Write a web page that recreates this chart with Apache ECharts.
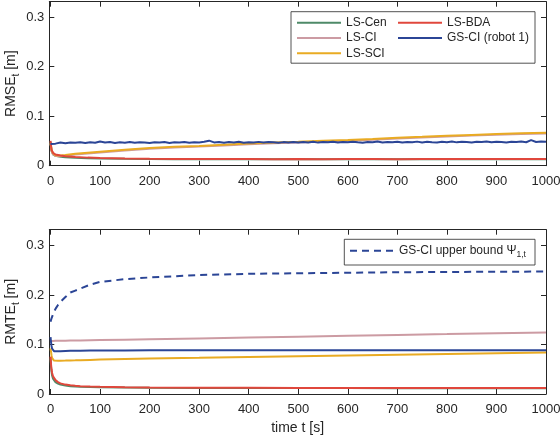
<!DOCTYPE html>
<html><head><meta charset="utf-8">
<script src="https://cdn.jsdelivr.net/npm/echarts@6/dist/echarts.min.js"></script>
<style>html,body{margin:0;padding:0;background:#fff}#c{width:560px;height:436px}</style>
</head><body><div id="c"></div>
<script>
// ---------- tick labels ----------
const xTicks = [0, 100, 200, 300, 400, 500, 600, 700, 800, 900, 1000];
const yTicks = [0, 0.1, 0.2, 0.3];

// ---------- top panel: RMSE_t ----------
const tNoise = [0,10,20,30,40,50,60,70,80,90,100,110,120,130,140,150,160,170,180,190,200,210,220,230,240,250,260,270,280,290,300,310,320,330,340,350,360,370,380,390,400,410,420,430,440,450,460,470,480,490,500,510,520,530,540,550,560,570,580,590,600,610,620,630,640,650,660,670,680,690,700,710,720,730,740,750,760,770,780,790,800,810,820,830,840,850,860,870,880,890,900,910,920,930,940,950,960,970,980,990,1000];
const rmseGsCi = [0.044,0.0445,0.047,0.0455,0.0468,0.0462,0.0472,0.0458,0.0475,0.0465,0.049,0.0468,0.0478,0.046,0.0472,0.0465,0.0478,0.0462,0.0474,0.0468,0.0458,0.0472,0.0466,0.0478,0.046,0.0473,0.0467,0.0479,0.0463,0.0475,0.0468,0.0482,0.0505,0.047,0.0478,0.0463,0.0476,0.0468,0.0482,0.0465,0.0474,0.0469,0.0481,0.0466,0.0477,0.0471,0.0462,0.0476,0.0469,0.048,0.0467,0.0478,0.047,0.0483,0.0466,0.0479,0.0472,0.0485,0.0468,0.0477,0.0471,0.0484,0.0474,0.0465,0.048,0.0473,0.0487,0.0469,0.0478,0.0472,0.0484,0.0467,0.0479,0.0473,0.0486,0.047,0.0481,0.0474,0.0468,0.0482,0.0475,0.0488,0.0471,0.0483,0.0476,0.0469,0.0484,0.0477,0.049,0.0472,0.0485,0.0478,0.047,0.0484,0.0476,0.0488,0.0474,0.0515,0.0478,0.0486,0.0482];

const tTop = [0,2,5,10,20,30,50,75,100,150,200,250,300,350,400,450,500,550,600,650,700,750,800,850,900,950,1000];
const rmseLsSci = [0.045,0.032,0.025,0.021,0.0205,0.0215,0.024,0.026,0.028,0.032,0.0355,0.038,0.040,0.0425,0.045,0.047,0.0485,0.0503,0.052,0.054,0.0563,0.0583,0.0605,0.0622,0.064,0.0655,0.0667];
const rmseLsCi  = [0.045,0.030,0.023,0.0195,0.019,0.020,0.0225,0.0245,0.0265,0.0305,0.034,0.0365,0.0385,0.041,0.0435,0.0455,0.047,0.0488,0.0505,0.0525,0.0548,0.0568,0.059,0.0607,0.0625,0.064,0.0652];
const rmseLsBda = [0.050,0.032,0.026,0.0225,0.0205,0.019,0.0175,0.0163,0.0155,0.0145,0.014,0.0137,0.0135,0.0133,0.0134,0.0132,0.0133,0.0131,0.0134,0.0135,0.0132,0.0134,0.0133,0.0135,0.0133,0.0136,0.0134];
const rmseLsCen = [0.048,0.030,0.023,0.020,0.018,0.0168,0.0158,0.015,0.0145,0.0138,0.0134,0.0131,0.013,0.0129,0.0131,0.0129,0.013,0.0128,0.0131,0.0132,0.0129,0.0131,0.013,0.0132,0.013,0.0133,0.0131];

// ---------- bottom panel: RMTE_t ----------
const tBot = [0,1,2,3,5,7,10,15,20,30,40,50,60,80,100,150,200,300,400,500,600,700,800,900,1000];
const rmteBound = [0.146,0.150,0.153,0.156,0.161,0.166,0.172,0.180,0.186,0.196,0.205,0.209,0.213,0.221,0.2265,0.232,0.2355,0.2405,0.2428,0.244,0.245,0.246,0.2466,0.247,0.2475];
const rmteLsCi  = [0.1072,0.1072,0.1072,0.1073,0.1073,0.1073,0.1074,0.1075,0.1076,0.1077,0.1079,0.108,0.1082,0.1086,0.1089,0.1098,0.1107,0.1124,0.1141,0.1158,0.1176,0.1193,0.121,0.1228,0.1245];
const rmteGsCi  = [0.115,0.105,0.097,0.092,0.088,0.0865,0.086,0.0862,0.0866,0.087,0.0872,0.0874,0.0875,0.0877,0.0878,0.088,0.0882,0.0883,0.0884,0.0884,0.0884,0.0884,0.0883,0.0882,0.0882];
const rmteLsSci = [0.092,0.085,0.078,0.073,0.069,0.0675,0.0672,0.0672,0.0673,0.0675,0.0678,0.068,0.0683,0.0689,0.0695,0.0705,0.0715,0.0731,0.0748,0.0764,0.078,0.0795,0.081,0.0824,0.0838];
const rmteLsBda = [0.0755,0.060,0.050,0.043,0.036,0.032,0.028,0.024,0.0215,0.019,0.0175,0.0165,0.0158,0.015,0.0145,0.0138,0.0132,0.0127,0.0124,0.0122,0.0121,0.012,0.012,0.012,0.0119];
const rmteLsCen = [0.072,0.055,0.045,0.038,0.031,0.027,0.024,0.021,0.019,0.017,0.0158,0.015,0.0145,0.014,0.0137,0.0131,0.0127,0.0123,0.0121,0.012,0.0119,0.0118,0.0118,0.0118,0.0117];

// ---------- names / colors ----------
const names = ['LS-Cen', 'LS-CI', 'LS-SCI', 'LS-BDA', 'GS-CI (robot 1)'];
const boundName = 'GS-CI upper bound \u03A81,t';
const colors = { cen: '#4e8a68', ci: '#cc9ba3', sci: '#e9ab23', bda: '#e0473c', gs: '#2b4596' };

const pairs = (t, v) => t.map((x, i) => [x, v[i]]);
const ink = '#262626';
const font = '"Liberation Sans", Arial, Helvetica, sans-serif';

function xAx(grid, pos, showLabels, name) {
  return {
    type: 'value', gridIndex: grid, position: pos, min: -2.5, max: 1000,
    axisLine: { show: true, onZero: false, lineStyle: { color: ink, width: 1 } },
    axisTick: { show: true, inside: true, length: 5, customValues: xTicks, lineStyle: { color: ink, width: 1 } },
    axisLabel: { show: showLabels, customValues: xTicks, margin: 9, fontSize: 13, color: ink, fontFamily: font,
      formatter: v => String(v) },
    splitLine: { show: false },
    name: name || '', nameLocation: 'middle', nameGap: 27, nameMoveOverlap: false,
    nameTextStyle: { fontSize: 14, color: ink, fontFamily: font }
  };
}
function yAx(grid, pos, showLabels, name, max) {
  return {
    type: 'value', gridIndex: grid, position: pos, min: 0, max: max,
    axisLine: { show: true, onZero: false, lineStyle: { color: ink, width: 1 } },
    axisTick: { show: true, inside: true, length: 5, customValues: yTicks, lineStyle: { color: ink, width: 1 } },
    axisLabel: { show: showLabels, customValues: yTicks, margin: 5, fontSize: 13, color: ink, fontFamily: font,
      formatter: v => String(v) },
    splitLine: { show: false },
    name: name || '', nameLocation: 'middle', nameGap: 28, nameMoveOverlap: false,
    nameTextStyle: {
      color: ink, fontFamily: font,
      rich: {
        a: { fontSize: 14, lineHeight: 20, color: ink, fontFamily: font },
        s: { fontSize: 10, lineHeight: 10, verticalAlign: 'bottom', color: ink, fontFamily: font }
      }
    }
  };
}
function line(name, xi, yi, data, color, extra) {
  return Object.assign({
    type: 'line', name: name, xAxisIndex: xi, yAxisIndex: yi, data: data,
    symbol: 'none', showSymbol: false, animation: false, smooth: false,
    lineStyle: { color: color, width: 2 }, itemStyle: { color: color }
  }, extra || {});
}
const legendCommon = {
  orient: 'vertical', padding: 0, itemWidth: 44, itemHeight: 14, itemGap: 1.3, z: 5,
  itemStyle: { color: 'rgba(0,0,0,0)', borderWidth: 0, opacity: 0 },
  lineStyle: { width: 2 }
};

const chart = echarts.init(document.getElementById('c'), null, { renderer: 'canvas' });
chart.setOption({
  animation: false,
  textStyle: { fontFamily: font },
  grid: [
    { left: 49.3, right: 14, top: 1.7, height: 164, containLabel: false, outerBoundsMode: 'none' },
    { left: 49.3, right: 14, top: 229.7, height: 164.3, containLabel: false, outerBoundsMode: 'none' }
  ],
  xAxis: [
    xAx(0, 'bottom', true),
    xAx(0, 'top', false),
    xAx(1, 'bottom', true, 'time t [s]'),
    xAx(1, 'top', false)
  ],
  yAxis: [
    yAx(0, 'left', true, '{a|RMSE}{s|t}{a| [m]}', 0.331),
    yAx(0, 'right', false, '', 0.331),
    yAx(1, 'left', true, '{a|RMTE}{s|t}{a| [m]}', 0.332),
    yAx(1, 'right', false, '', 0.332)
  ],
  graphic: [
    { type: 'rect', z: 3, shape: { x: 291, y: 11.7, width: 244, height: 51.5 }, style: { fill: '#fff', stroke: ink, lineWidth: 0.8 } },
    { type: 'rect', z: 3, shape: { x: 344.3, y: 239.3, width: 190.7, height: 25.7 }, style: { fill: '#fff', stroke: ink, lineWidth: 0.8 } }
  ],
  legend: [
    Object.assign({}, legendCommon, { data: [names[0], names[1], names[2]], left: 296, top: 15.7,
      textStyle: { fontSize: 12, color: ink, fontFamily: font, lineHeight: 14 } }),
    Object.assign({}, legendCommon, { data: [names[3], names[4]], left: 397, top: 15.7,
      textStyle: { fontSize: 12, color: ink, fontFamily: font, lineHeight: 14 } }),
    Object.assign({}, legendCommon, { data: [boundName], left: 349, top: 244.7,
      formatter: () => '{a|GS-CI upper bound \u03A8}{s|1,t}',
      textStyle: { color: ink, fontFamily: font,
        rich: {
          a: { fontSize: 12, lineHeight: 16, color: ink, fontFamily: font },
          s: { fontSize: 8.5, lineHeight: 9, verticalAlign: 'bottom', color: ink, fontFamily: font }
        } } })
  ],
  series: [
    line(names[0], 0, 0, pairs(tTop, rmseLsCen), colors.cen),
    line(names[1], 0, 0, pairs(tTop, rmseLsCi), colors.ci),
    line(names[2], 0, 0, pairs(tTop, rmseLsSci), colors.sci),
    line(names[3], 0, 0, pairs(tTop, rmseLsBda), colors.bda),
    line(names[4], 0, 0, pairs(tNoise, rmseGsCi), colors.gs),
    line(names[0], 2, 2, pairs(tBot, rmteLsCen), colors.cen),
    line(names[1], 2, 2, pairs(tBot, rmteLsCi), colors.ci),
    line(names[2], 2, 2, pairs(tBot, rmteLsSci), colors.sci),
    line(names[3], 2, 2, pairs(tBot, rmteLsBda), colors.bda),
    line(names[4], 2, 2, pairs(tBot, rmteGsCi), colors.gs),
    line(boundName, 2, 2, pairs(tBot, rmteBound), colors.gs, { lineStyle: { color: colors.gs, width: 2, type: [7, 5] } })
  ]
});
</script>
</body></html>
